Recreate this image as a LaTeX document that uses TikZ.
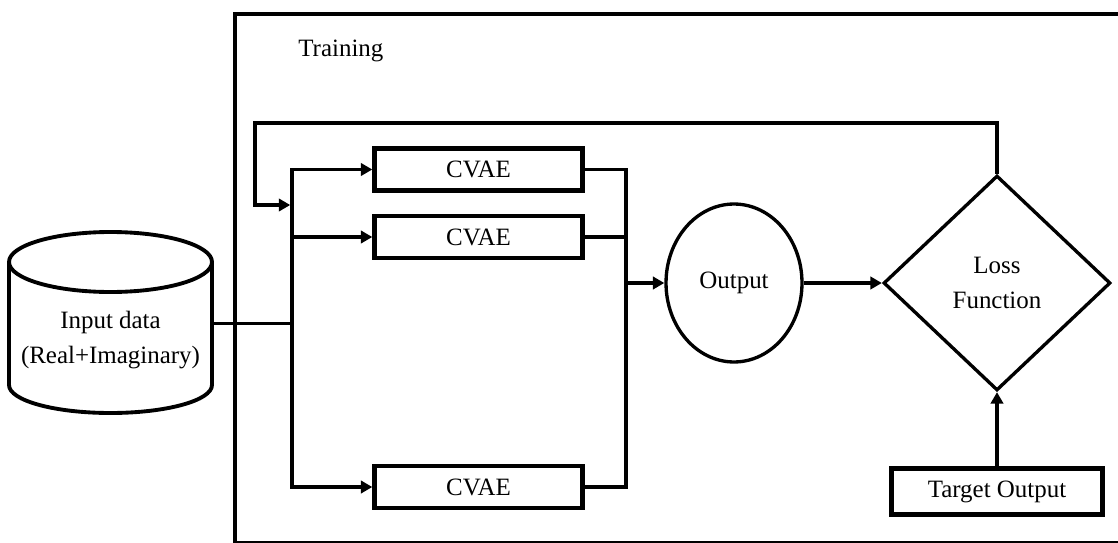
\documentclass[tikz,border=0pt]{standalone}
\usepackage{fontspec}
\setmainfont{Liberation Serif}
\usetikzlibrary{shapes.geometric,arrows.meta}
\begin{document}
\begin{tikzpicture}[x=0.02cm,y=0.02cm,
  every node/.style={font=\fontsize{14.2}{20.4}\selectfont},
  conn/.style={line width=2.2pt},
  arr/.style={conn,-{Triangle[length=6.5pt,width=7pt]}},
  cvaebox/.style={draw,line width=2.5pt,minimum width=4.16cm,minimum height=0.84cm,inner sep=0pt},
  shp/.style={draw,line width=1.9pt,inner sep=0pt}]
\useasboundingbox (0,0) rectangle (1118,542);
\clip (0,0) rectangle (1118,542);
% outer training frame (cut at right edge)
\draw[line width=2.6pt] (1140,528) -- (235,528) -- (235,-1) -- (1140,-1);
\node[anchor=base west,inner sep=0pt] (train) at (298,485) {Training};
% cylinder
\draw[line width=2.2pt] (110.5,280) ellipse[x radius=101.5,y radius=30];
\draw[line width=2.2pt] (9,280) -- (9,157) arc[start angle=180,end angle=360,x radius=101.5,y radius=28] -- (212,280);
\node[minimum width=4.06cm,minimum height=2.46cm,inner sep=0pt] (cyl) at (110.5,218.5) {};
\node[align=center] (cyltxt) at (110.5,202) {Input data\\(Real+Imaginary)};
% CVAE boxes
\node[cvaebox] (c1) at (478.5,372.5) {CVAE};
\node[cvaebox] (c2) at (478.5,305) {CVAE};
\node[cvaebox] (c3) at (478.5,55) {CVAE};
% input bus
\coordinate (jin) at (292,218.5);
\draw[conn] (cyl.east) -- (jin);
\draw[arr] (jin) |- (c1.west);
\draw[arr] (jin) |- (c3.west);
\draw[arr] (c2.west-|jin) -- (c2.west);
% output bus
\coordinate (jout) at (626,259);
\node[shp,ellipse,minimum width=2.72cm,minimum height=3.16cm] (out) at (734,259) {Output};
\draw[conn] (c1.east) -| (jout);
\draw[conn] (c3.east) -| (jout);
\draw[conn] (c2.east) -- (c2.east-|jout);
\draw[arr] (jout) -- (out.west);
% loss
\node[shp,diamond,minimum width=4.54cm,minimum height=4.3cm,align=center] (loss) at (997,259) {Loss\\Function};
\draw[arr] (out.east) -- (loss.west);
\node[draw,line width=2.5pt,minimum width=4.22cm,minimum height=0.92cm,inner sep=0pt] (tgt) at (997,50.5) {Target Output};
\draw[arr] (tgt.north) -- (loss.south);
% feedback
\coordinate (fbtop) at (255,419);
\coordinate (fb) at (255,337);
\draw[arr] (loss.north) |- (fbtop) -- (fb) -- ([xshift=-1pt]fb-|jin);
\end{tikzpicture}
\end{document}
